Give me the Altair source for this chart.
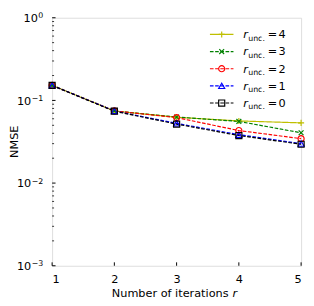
import altair as alt
import pandas as pd

# ---------------- data ----------------
iterations = [1, 2, 3, 4, 5]
series = ["4", "3", "2", "1", "0"]
nmse_r4 = [0.152, 0.0746, 0.0625, 0.0565, 0.0535]
nmse_r3 = [0.152, 0.0746, 0.0630, 0.0557, 0.0406]
nmse_r2 = [0.152, 0.0746, 0.0620, 0.0432, 0.0345]
nmse_r1 = [0.152, 0.0746, 0.0528, 0.0385, 0.0300]
nmse_r0 = [0.152, 0.0740, 0.0517, 0.0376, 0.0295]
y_major = [0.001, 0.01, 0.1, 1.0]
y_exponents = ["−3", "−2", "−1", "0"]
x_ticks = [1, 2, 3, 4, 5]

# ---------------- styles ----------------
W, H = 254, 253
FONT = "DejaVu Sans"
FS = 11.5
SUB = 8
colors = ["#bfbf00", "#008000", "#ff0000", "#0000ff", "#000000"]
dashes = [[1, 0], [3.7, 1.6], [3.7, 1.6], [3.7, 1.6], [3.7, 1.6]]
plus_path = "M-1,0H1M0,-1V1"
x_path = "M-0.8,-0.8L0.8,0.8M-0.8,0.8L0.8,-0.8"
shapes = [plus_path, x_path, "circle", "triangle-up", "square"]

values = [nmse_r4, nmse_r3, nmse_r2, nmse_r1, nmse_r0]
rows = []
for k, (s, vals) in enumerate(zip(series, values)):
    for it, v in zip(iterations, vals):
        rows.append({"s": s, "k": k, "r": it, "nmse": v})
df = pd.DataFrame(rows)

color_scale = alt.Scale(domain=series, range=colors)
dash_scale = alt.Scale(domain=series, range=dashes)
shape_scale = alt.Scale(domain=series, range=shapes)

xscale = alt.Scale(domain=[1, 5], nice=False, zero=False)
yscale = alt.Scale(type="log", domain=[0.001, 1], nice=False)

X = alt.X("r:Q", scale=xscale,
          axis=alt.Axis(values=x_ticks, format="d", ticks=False, domain=False, grid=False,
                        title=None, labelFont=FONT, labelFontSize=FS, labelColor="#000",
                        labelPadding=8))
Y = alt.Y("nmse:Q", scale=yscale, axis=None)

lines = alt.Chart(df).mark_line(strokeWidth=1.2).encode(
    x=X, y=Y,
    color=alt.Color("s:N", scale=color_scale, legend=None),
    strokeDash=alt.StrokeDash("s:N", scale=dash_scale, legend=None),
    order=alt.Order("r:Q"),
)
points = alt.Chart(df).mark_point(filled=False, size=38, strokeWidth=1.2, opacity=1).encode(
    x=X, y=Y,
    color=alt.Color("s:N", scale=color_scale, legend=None),
    shape=alt.Shape("s:N", scale=shape_scale, legend=None),
)

# ---- y tick labels as 10 + superscript exponent ----
ylab = pd.DataFrame({"v": y_major, "e": y_exponents})
EXP_RIGHT = -9
ylab["base_x"] = [EXP_RIGHT - 0.5 - SUB * ((0.838 if e.startswith("−") else 0) + 0.636)
                  for e in y_exponents]
ylab_exp = alt.Chart(ylab).mark_text(align="right", baseline="alphabetic", font=FONT,
                                     fontSize=SUB, dy=0.5, color="#000").encode(
    y=alt.Y("v:Q", scale=yscale), x=alt.value(EXP_RIGHT), text="e:N")
ylab_ten = alt.Chart(ylab).mark_text(align="right", baseline="alphabetic", font=FONT,
                                     fontSize=FS, dy=4.2, color="#000").encode(
    y=alt.Y("v:Q", scale=yscale), x=alt.X("base_x:Q", scale=None), text=alt.value("10"))

# ---- inward ticks ----
minor = []
for e in [0.001, 0.01, 0.1]:
    for m in range(2, 10):
        minor.append(round(m * e, 6))
yt_major = alt.Chart(pd.DataFrame({"v": y_major})).mark_rule(color="#000", strokeWidth=1).encode(
    y=alt.Y("v:Q", scale=yscale), x=alt.value(0), x2=alt.value(3.5))
yt_minor = alt.Chart(pd.DataFrame({"v": minor})).mark_rule(color="#000", strokeWidth=0.8).encode(
    y=alt.Y("v:Q", scale=yscale), x=alt.value(0), x2=alt.value(2))
xt = alt.Chart(pd.DataFrame({"v": x_ticks})).mark_rule(color="#000", strokeWidth=1).encode(
    x=alt.X("v:Q", scale=xscale), y=alt.value(H), y2=alt.value(H - 3.5))

# ---- legend ----
leg = pd.DataFrame({"s": series, "k": list(range(len(series)))})
leg["ly"] = 17 + leg["k"] * 17.5
lx0, lx1, lmk = 161, 185, 173
leg_lines = alt.Chart(leg).mark_rule(strokeWidth=1.2).encode(
    x=alt.value(lx0), x2=alt.value(lx1), y=alt.Y("ly:Q", scale=None),
    color=alt.Color("s:N", scale=color_scale, legend=None),
    strokeDash=alt.StrokeDash("s:N", scale=dash_scale, legend=None))
leg_pts = alt.Chart(leg).mark_point(filled=False, size=38, strokeWidth=1.2, opacity=1).encode(
    x=alt.value(lmk), y=alt.Y("ly:Q", scale=None),
    color=alt.Color("s:N", scale=color_scale, legend=None),
    shape=alt.Shape("s:N", scale=shape_scale, legend=None))
leg_r = alt.Chart(leg).mark_text(align="left", baseline="alphabetic", font=FONT, fontSize=FS,
                                 fontStyle="italic", dy=4, color="#000").encode(
    x=alt.value(195), y=alt.Y("ly:Q", scale=None), text=alt.value("r"))
leg_sub = alt.Chart(leg).mark_text(align="left", baseline="alphabetic", font=FONT, fontSize=SUB,
                                   dy=6.5, color="#000").encode(
    x=alt.value(200), y=alt.Y("ly:Q", scale=None), text=alt.value("unc."))
leg_eq = alt.Chart(leg).mark_text(align="left", baseline="alphabetic", font=FONT, fontSize=FS,
                                  dy=4, color="#000").encode(
    x=alt.value(220), y=alt.Y("ly:Q", scale=None), text=alt.value("="))
leg_num = alt.Chart(leg).mark_text(align="left", baseline="alphabetic", font=FONT, fontSize=FS,
                                   dy=4, color="#000").encode(
    x=alt.value(231), y=alt.Y("ly:Q", scale=None), text="s:N")

# ---- axis titles ----
TITLE_Y = 285
xtitle = alt.Chart(pd.DataFrame({"t": ["Number of iterations"]})).mark_text(
    align="right", baseline="alphabetic", font=FONT, fontSize=FS, color="#000").encode(
    x=alt.value(180), y=alt.value(TITLE_Y), text="t:N")
xtitle_r = alt.Chart(pd.DataFrame({"t": ["r"]})).mark_text(
    align="left", baseline="alphabetic", font=FONT, fontSize=FS, fontStyle="italic",
    color="#000").encode(x=alt.value(184), y=alt.value(TITLE_Y), text="t:N")
ytitle = alt.Chart(pd.DataFrame({"t": ["NMSE"]})).mark_text(
    align="center", baseline="middle", font=FONT, fontSize=FS, angle=270,
    color="#000").encode(x=alt.value(-37.5), y=alt.value(H / 2), text="t:N")

chart = alt.layer(
    lines, points, yt_major, yt_minor, xt, ylab_exp, ylab_ten,
    leg_lines, leg_pts, leg_r, leg_sub, leg_eq, leg_num,
    xtitle, xtitle_r, ytitle,
).properties(
    width=W, height=H,
    autosize=alt.AutoSizeParams(type="none"),
    padding={"left": 45, "top": 7, "right": 5, "bottom": 33},
).configure_view(stroke="#000", strokeWidth=1).configure(background="white")

chart.save("out.html", embed_options={"renderer": "svg", "actions": False})
